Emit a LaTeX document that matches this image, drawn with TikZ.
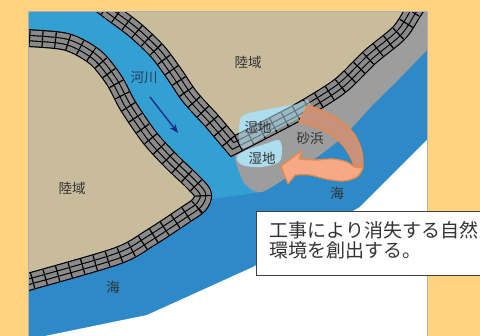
\documentclass[tikz,border=0pt]{standalone}
\usepackage{fontspec}
\newfontfamily\jpfont{Noto Sans CJK JP}
\usepackage{tikz}
\usetikzlibrary{arrows.meta}
\definecolor{pagebg}{HTML}{FFD37F}
\definecolor{seablue}{HTML}{2E89C9}
\definecolor{riverblue}{HTML}{339FD3}
\definecolor{landfill}{HTML}{C9BC9C}
\definecolor{sandfill}{HTML}{9D9D9D}
\definecolor{wetfill}{HTML}{ADDEEF}
\definecolor{wallgray}{HTML}{8A8A8A}
\definecolor{ribbonback}{HTML}{C9907A}
\definecolor{ribbonfront}{HTML}{F7A885}
\definecolor{ribbonline}{HTML}{EF8843}
\definecolor{flowblue}{HTML}{1F2A8A}
\definecolor{textgray}{HTML}{333333}
\definecolor{rivertext}{HTML}{243F5C}
\definecolor{panelline}{HTML}{B0B0B0}
\definecolor{boxline}{HTML}{404040}
\tikzset{
  land/.style={fill=landfill},
  sand/.style={fill=sandfill},
  wetland/.style={fill=wetfill},
  seawall/.style={draw=black, line width=18pt, line join=round,
                  postaction={draw=wallgray, line width=15.6pt},
                  postaction={draw=black, line width=6.4pt},
                  postaction={draw=wallgray, line width=4.2pt},
                  postaction={draw=black, line width=15.6pt,
                              dash pattern=on 1.2pt off 11.8pt}},
  areatext/.style={font=\jpfont\fontsize{13.5}{15}\selectfont,
                   text=textgray, inner sep=0pt},
  ribbon/.style={draw=ribbonline, line width=1.2pt, line join=round},
  flowarrow/.style={draw=flowblue, line width=1.4pt,
                    -{Stealth[length=9pt,width=7pt]}},
  notebox/.style={draw=boxline, fill=white, line width=1.3pt,
                  font=\jpfont\fontsize{19}{20}\selectfont, text=textgray,
                  align=left, text width=230pt, inner xsep=13pt,
                  inner ysep=10pt, text depth=28pt}
}
% shore lines (centre of the sea walls)
\newcommand{\westshore}{plot[smooth] coordinates {(16,37) (28,38) (67,42)
  (95,57) (114,80) (128,106) (150,138) (172,162) (192,181) (203,194)
  (199,205) (185,215) (150,238) (117,256) (28,282) (16,285)}}
\newcommand{\northarm}{plot[smooth] coordinates {(95,0) (111,12) (135,30)
  (158,52) (175,75) (190,97) (211,120)}}
% continues a path: corner of the mouth, then up to the top edge
\newcommand{\eastarm}{-- plot[smooth] coordinates {(233,146) (270,127)
  (302,110) (340,86) (370,57) (399,33) (413,12) (421,0)}}

\begin{document}
\begin{tikzpicture}[x=1pt, y=-1pt]

  \useasboundingbox (0,0) rectangle (480,336);
  \fill[pagebg] (0,0) rectangle (480,336);

  \begin{scope}
    \clip (28,12) rectangle (427,336);

    % --- sea, open water and river ---
    \fill[seablue] (28,12) rectangle (427,336);
    \fill[white] (440,130) -- (427,140) -- (360,207) -- (253,267)
      -- (147,315) -- (45,336) -- (45,345) -- (440,345) -- cycle;
    \fill[riverblue] (20,0) -- (240,0) -- (240,146) -- (262,192)
      -- (205,200) -- (28,60) -- (20,60) -- cycle;

    % --- land on both banks ---
    \fill[land] \northarm \eastarm -- cycle;
    \fill[land] \westshore -- (0,290) -- (0,30) -- cycle;

    % --- sandy beach in front of the east wall ---
    \fill[sand] (232,144) \eastarm -- (440,0) -- (440,38)
      -- plot[smooth] coordinates {(427,50) (400,78) (370,108) (345,135)
         (320,155) (295,172) (275,185) (262,192) (252,190) (243,181)
         (236,163)} -- cycle;

    % --- wetlands ---
    \fill[wetland] plot[smooth cycle] coordinates {(240,120) (250,113)
      (270,109) (297,104) (308,100) (312,113) (305,115) (272,132)
      (242,148)};
    \fill[wetland] plot[smooth cycle] coordinates {(237,156) (247,150)
      (265,144) (279,140) (282,150) (279,162) (262,167) (245,166)
      (238,162)};

    % --- sea walls ---
    \draw[seawall] \westshore;
    \draw[seawall, line join=miter] \northarm \eastarm;

    % wetland shows through the wall
    \fill[wetland, fill opacity=0.55] plot[smooth cycle] coordinates
      {(240,120) (250,113) (270,109) (297,104) (308,100) (312,113)
       (305,115) (272,132) (242,148)};

    % --- river flow ---
    \coordinate (flow-from) at (150,97);
    \coordinate (flow-to) at (178,133);
    \draw[flowarrow] (flow-from) -- (flow-to);

    % --- turning ribbon: wetland moved to the beach ---
    \filldraw[ribbon, fill=ribbonback]
      plot[smooth] coordinates {(299,122) (315,127) (332,135) (345,148)
        (352,160) (354,167)}
      -- plot[smooth] coordinates {(363,168) (362,152) (355,135)
        (342,122) (325,112) (308,105)} -- cycle;
    \filldraw[ribbon, fill=ribbonfront]
      plot[smooth] coordinates {(354,167) (347,162) (333,159) (315,160)
        (299,159)}
      -- (302,151) -- (281,166) -- (288,184)
      -- plot[smooth] coordinates {(295,175) (310,175) (326,179)
        (343,181) (357,177) (363,168)} -- cycle;

    % --- area names ---
    \node[areatext] (land-north) at (248,62) {陸域};
    \node[areatext] (land-west) at (72,188) {陸域};
    \node[areatext, text=rivertext] (river) at (144,78) {河川};
    \node[areatext] (wet-upper) at (258,127) {湿地};
    \node[areatext] (wet-lower) at (262,158) {湿地};
    \node[areatext] (beach) at (310,138) {砂浜};
    \node[areatext] (sea-east) at (337,193) {海};
    \node[areatext] (sea-south) at (113,287) {海};
  \end{scope}

  \draw[panelline, line width=1pt] (28,340) -- (28,12) -- (427,12)
    -- (427,340);

  % --- note ---
  \node[notebox, anchor=north west] (note) at (256,211)
    {工事により消失する自然\\環境を創出する。};

\end{tikzpicture}
\end{document}
